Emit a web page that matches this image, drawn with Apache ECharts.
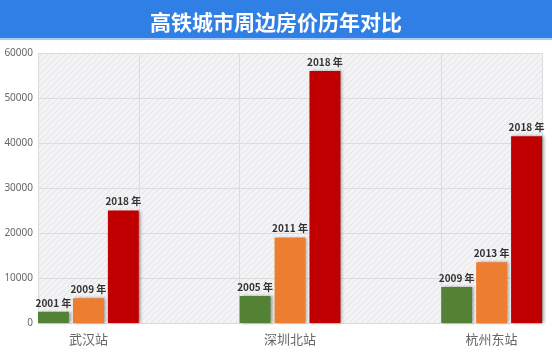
<!DOCTYPE html>
<html>
<head>
<meta charset="utf-8">
<script src="https://cdn.jsdelivr.net/npm/echarts@6/dist/echarts.min.js"></script>
<style>
html,body{margin:0;padding:0;background:#fff;}
#c{width:552px;height:357px;}
</style>
</head>
<body>
<div id="c"></div>
<script>
var titleText = '高铁城市周边房价历年对比';
var categories = ['武汉站', '', '深圳北站', '', '杭州东站'];
var firstValues = [2500, null, 6000, null, 8000];
var secondValues = [5500, null, 19000, null, 13500];
var thirdValues = [25000, null, 56000, null, 41500];
var firstYears = ['2001 年', '', '2005 年', '', '2009 年'];
var secondYears = ['2009 年', '', '2011 年', '', '2013 年'];
var thirdYears = ['2018 年', '', '2018 年', '', '2018 年'];
var yTicks = [0, 10000, 20000, 30000, 40000, 50000, 60000];

var pc = document.createElement('canvas');
pc.width = 6; pc.height = 6;
var px = pc.getContext('2d');
px.fillStyle = '#f3f3f5';
px.fillRect(0, 0, 6, 6);
px.strokeStyle = '#e4e4e8';
px.lineWidth = 1;
px.beginPath();
px.moveTo(0, 6); px.lineTo(6, 0);
px.moveTo(-3, 3); px.lineTo(3, -3);
px.moveTo(3, 9); px.lineTo(9, 3);
px.stroke();

function mkSeries(vals, years, color) {
  return {
    type: 'bar',
    data: vals,
    barGap: '13%',
    barCategoryGap: '0%',
    itemStyle: {
      color: color,
      shadowColor: 'rgba(0,0,0,0.35)',
      shadowBlur: 3,
      shadowOffsetX: 2,
      shadowOffsetY: 0
    },
    label: {
      show: true,
      position: 'top',
      distance: 4,
      fontSize: 10,
      fontWeight: 'bold',
      color: '#333',
      fontFamily: 'Noto Sans CJK SC',
      formatter: function (p) { return years[p.dataIndex]; }
    }
  };
}

var chart = echarts.init(document.getElementById('c'), null, {renderer: 'canvas'});
chart.setOption({
  animation: false,
  backgroundColor: '#fff',
  graphic: [
    {type: 'rect', left: 0, top: 0, shape: {width: 552, height: 38}, style: {fill: '#2f7fe5'}, z: 0},
    {type: 'rect', left: 0, top: 38, shape: {width: 552, height: 2}, style: {fill: '#a9cbf5'}, z: 0}
  ],
  title: {
    text: titleText,
    left: 'center',
    top: 7,
    textStyle: {color: '#fff', fontSize: 21, fontWeight: 'bold', fontFamily: 'Noto Sans CJK SC'}
  },
  grid: {
    left: 38, right: 10, top: 53, bottom: 34,
    show: true,
    backgroundColor: {image: pc, repeat: 'repeat'},
    borderWidth: 0
  },
  xAxis: {
    type: 'category',
    data: categories,
    axisLine: {lineStyle: {color: '#d9d9d9'}},
    axisTick: {show: false},
    splitLine: {show: true, lineStyle: {color: '#dcdcdc'}},
    axisLabel: {fontSize: 13, color: '#666', fontFamily: 'Noto Sans CJK SC', margin: 10, interval: 0}
  },
  yAxis: {
    type: 'value',
    min: 0, max: 60000, interval: 10000,
    axisLine: {show: false},
    axisTick: {show: false},
    splitLine: {lineStyle: {color: '#dcdcdc'}},
    axisLabel: {fontSize: 10, color: '#666', margin: 5, fontFamily: 'Noto Sans',
      formatter: function (v) { return yTicks.indexOf(v) >= 0 ? String(v) : ''; }}
  },
  series: [
    mkSeries(firstValues, firstYears, '#548235'),
    mkSeries(secondValues, secondYears, '#ed7d31'),
    mkSeries(thirdValues, thirdYears, '#c00000')
  ]
});
</script>
</body>
</html>
